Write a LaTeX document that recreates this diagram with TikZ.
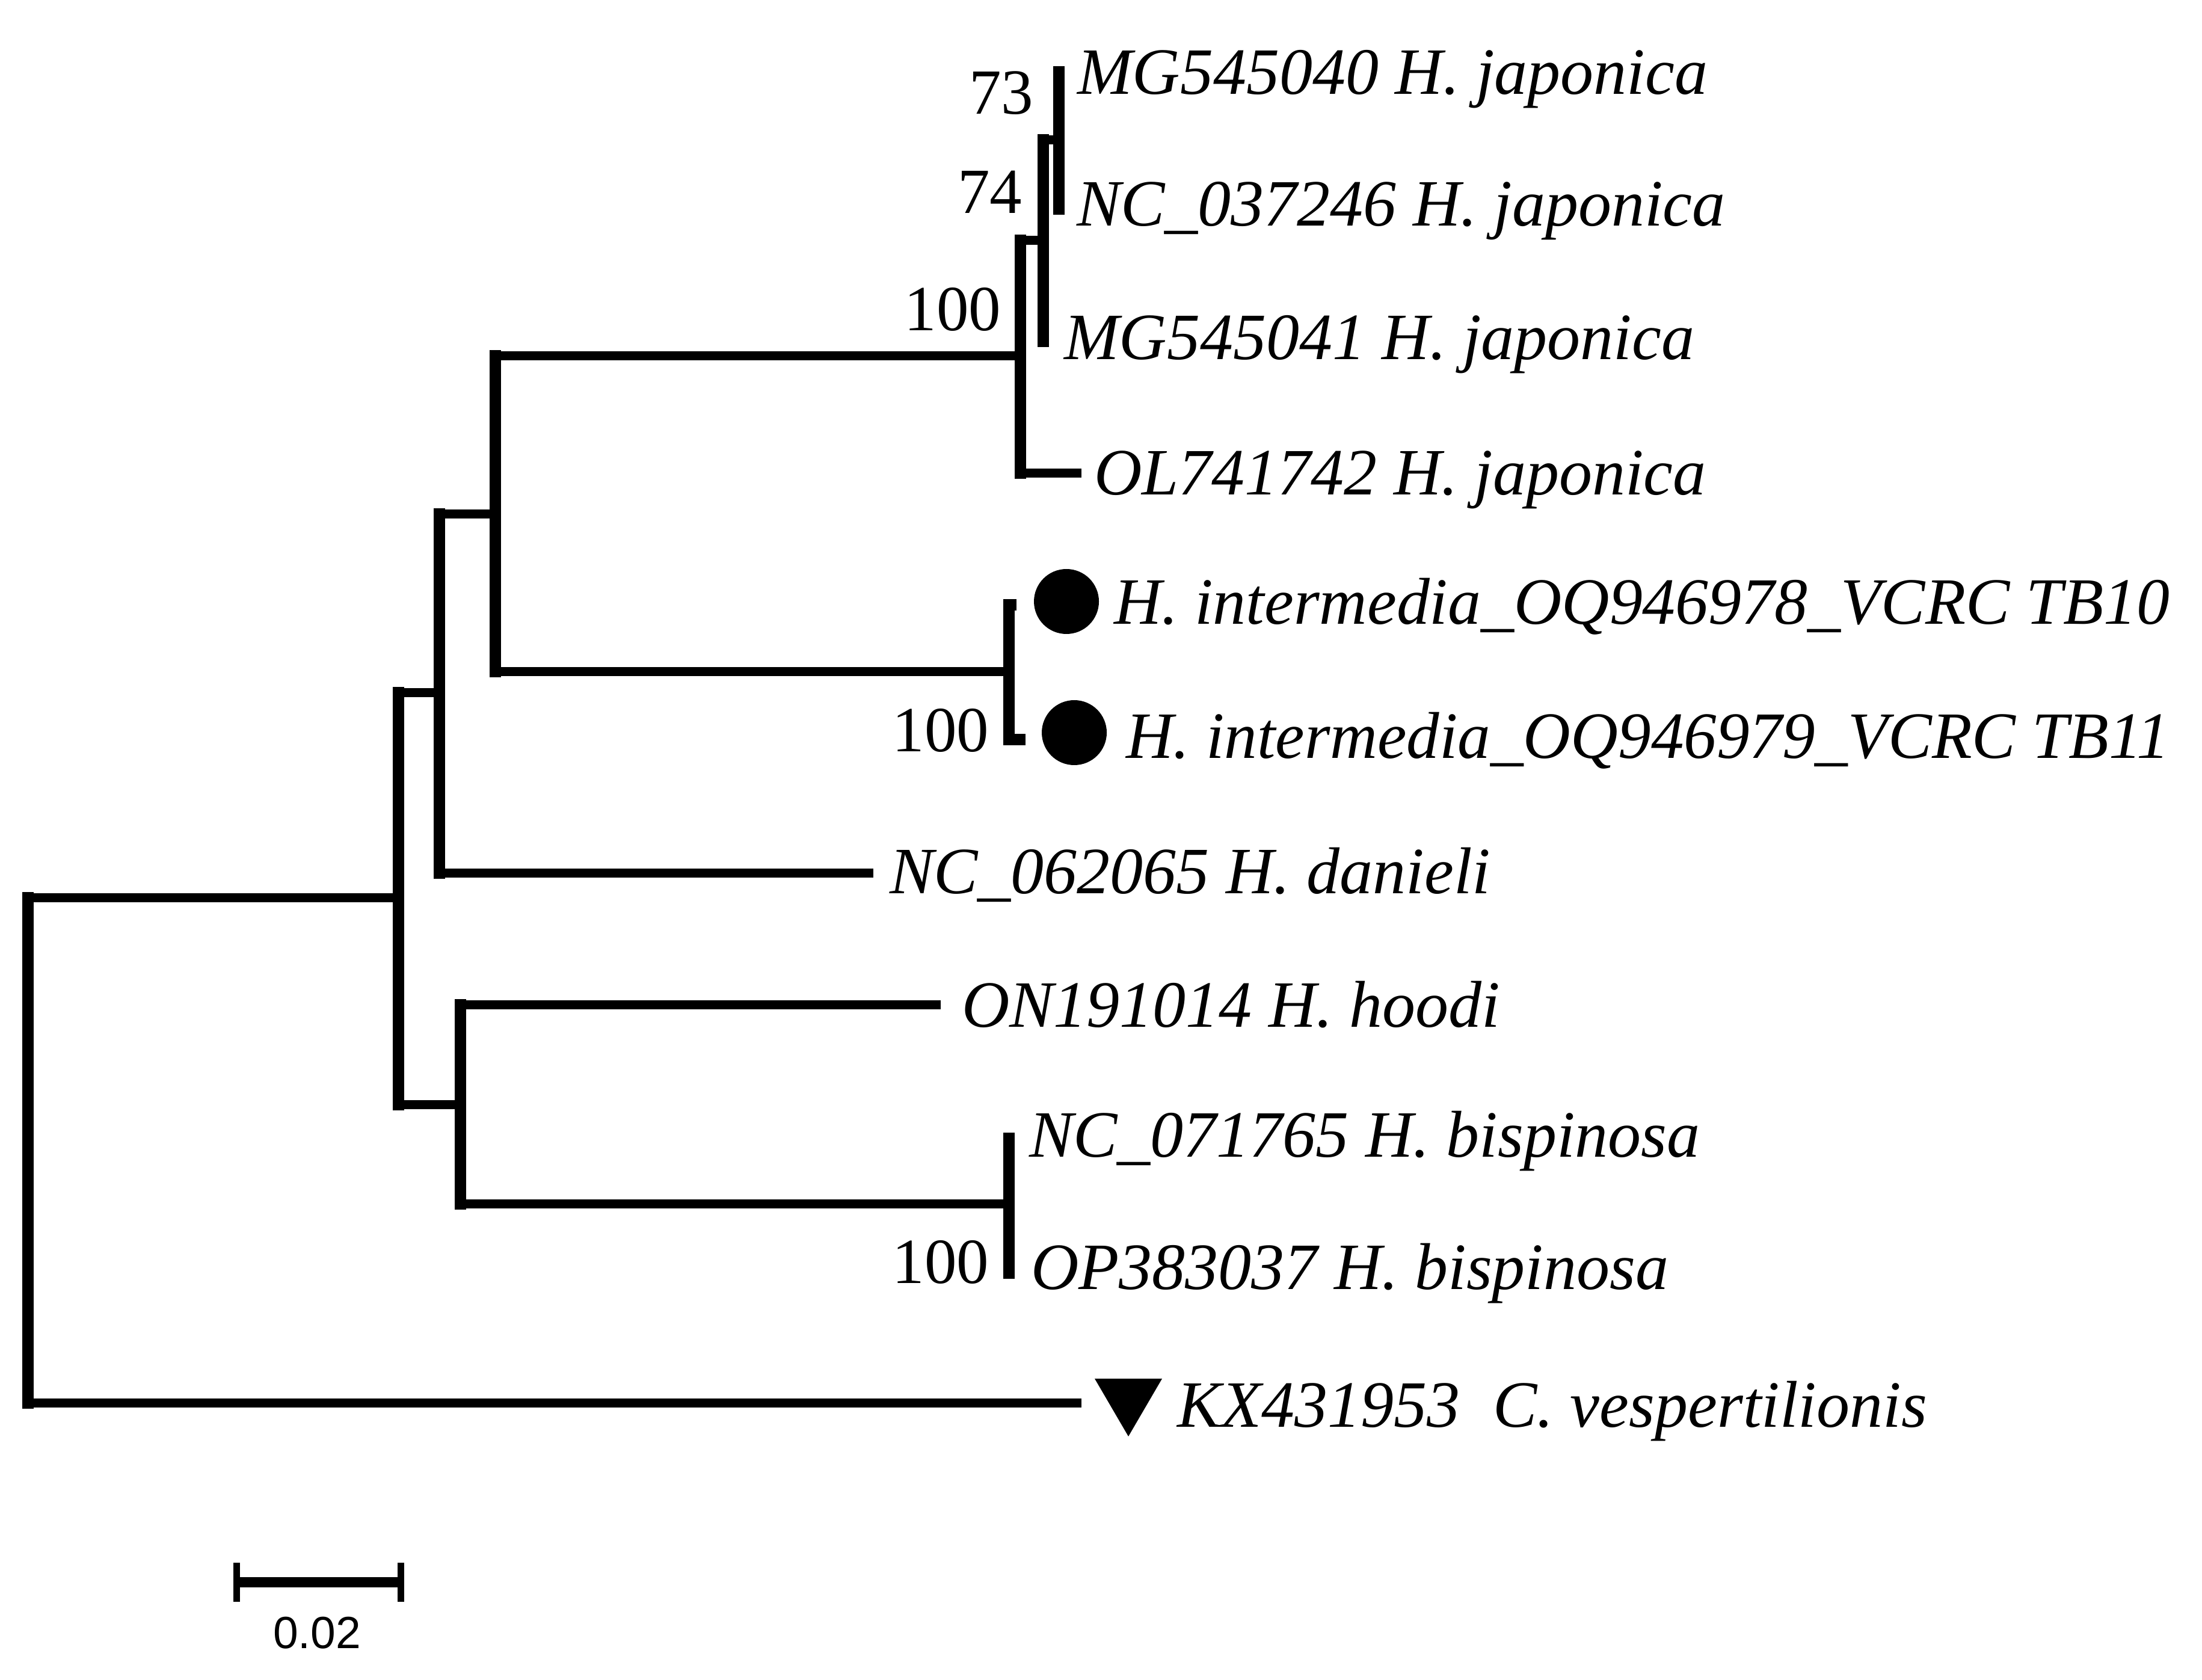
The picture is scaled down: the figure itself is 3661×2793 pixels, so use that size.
\documentclass[tikz,border=0pt]{standalone}
\usepackage{fontspec}
\setmainfont{Liberation Serif}
\newfontfamily\sansf{Liberation Sans}
\usepackage{graphicx}
\begin{document}
\begin{tikzpicture}[x=0.2pt,y=-0.2pt,
  hl/.style={line width=3pt,line cap=butt},
  vl/.style={line width=3.8pt,line cap=rect},
  lab/.style={inner sep=0pt,anchor=base west,font=\fontsize{22}{26}\selectfont\itshape},
  boot/.style={inner sep=0pt,anchor=base east,font=\fontsize{21.4}{26}\selectfont},
  dotmark/.style={circle,fill=black,inner sep=0pt,minimum size=21.6pt}]
\useasboundingbox (0,0) rectangle (3661,2793);
% internal node vertical ends
\coordinate (Rt) at (46,1492);   \coordinate (Rb) at (46,2332);
\coordinate (Ct) at (662,1152);  \coordinate (Cb) at (662,1836);
\coordinate (Bt) at (730,855);   \coordinate (Bb) at (730,1451);
\coordinate (At) at (823,592);   \coordinate (Ab) at (823,1117);
\coordinate (Dt) at (765,1670);  \coordinate (Db) at (765,2001);
\coordinate (Jt) at (1696,400);  \coordinate (Jb) at (1696,787);
\coordinate (Kt) at (1734,233);  \coordinate (Kb) at (1734,568);
\coordinate (Lt) at (1760,120);  \coordinate (Lb) at (1760,348);
\coordinate (It) at (1677,1006); \coordinate (Ib) at (1677,1230);
\coordinate (St) at (1677,1892); \coordinate (Sb) at (1677,2116);
% attachment points
\coordinate (Cin) at (662,1492);
\coordinate (Bin) at (730,1152);
\coordinate (Ain) at (823,855);
\coordinate (Din) at (765,1836);
\coordinate (Jin) at (1696,592);
\coordinate (Iin) at (1677,1117);
\coordinate (Kin) at (1734,400);
\coordinate (Lin) at (1760,233);
\coordinate (Sin) at (1677,2001);
% tips
\coordinate (tOut) at (1798,2332);
\coordinate (tDan) at (1452,1451);
\coordinate (tHoo) at (1564,1670);
\coordinate (tOL) at (1798,787);
\coordinate (tI1) at (1690,1006);
\coordinate (tI2) at (1705,1230);

% horizontals
\draw[hl] (Rt) -- (Cin);
\draw[hl] (Rb) -- (tOut);
\draw[hl] (Ct) -- (Bin);
\draw[hl] (Cb) -- (Din);
\draw[hl] (Bt) -- (Ain);
\draw[hl] (Bb) -- (tDan);
\draw[hl] (At) -- (Jin);
\draw[hl] (Ab) -- (Iin);
\draw[hl] (Dt) -- (tHoo);
\draw[hl] (Db) -- (Sin);
\draw[hl] (Jt) -- (Kin);
\draw[hl] (Jb) -- (tOL);
\draw[hl] (Kt) -- (Lin);
\draw[line width=3.8pt] (It) -- (tI1);
\draw[line width=3.8pt] (Ib) -- (tI2);
% verticals
\foreach \a/\b in {Rt/Rb,Ct/Cb,Bt/Bb,At/Ab,Dt/Db,Jt/Jb,Kt/Kb,Lt/Lb,It/Ib,St/Sb}
  \draw[vl] (\a) -- (\b);

% bootstrap values
\node[boot] (b73) at (1719,190) {73};
\node[boot] (b74) at (1700,355) {74};
\node[boot] (b100a) at (1665,550) {100};
\node[boot] (b100b) at (1645,1250) {100};
\node[boot] (b100c) at (1645,2133) {100};

% markers
\node[dotmark] (m1) at (1773,1000) {};
\node[dotmark] (m2) at (1786,1218) {};
\fill (1820,2292) -- (1932,2292) -- (1876,2388) -- cycle;

% labels
\node[lab] (l1) at (1790,157) {MG545040 H. japonica};
\node[lab] (l2) at (1789,376) {NC\_037246 H. japonica};
\node[lab] (l3) at (1768,598) {MG545041 H. japonica};
\node[lab] (l4) at (1818,823) {OL741742 H. japonica};
\node[lab] (l5) at (1851,1038) {\resizebox{351pt}{\height}{H. intermedia\_OQ946978\_VCRC TB10}};
\node[lab] (l6) at (1871,1261) {\resizebox{347pt}{\height}{H. intermedia\_OQ946979\_VCRC TB11}};
\node[lab] (l7) at (1478,1485) {NC\_062065 H. danieli};
\node[lab] (l8) at (1598,1707) {ON191014 H. hoodi};
\node[lab] (l9) at (1710,1923) {NC\_071765 H. bispinosa};
\node[lab] (l10) at (1713,2143) {OP383037 H. bispinosa};
\node[lab] (l11) at (1956,2372) {KX431953\ \ C. vespertilionis};

% scale bar
\coordinate (sbL) at (388,2630); \coordinate (sbR) at (672,2630);
\draw[line width=3.4pt] (sbL) -- (sbR);
\draw[line width=2.2pt] (393.5,2598) -- (393.5,2663);
\draw[line width=2.2pt] (666.5,2598) -- (666.5,2663);
\node[inner sep=0pt,anchor=base,font=\sansf\fontsize{15}{18}\selectfont] (sbt) at (527,2740) {0.02};
\end{tikzpicture}
\end{document}
